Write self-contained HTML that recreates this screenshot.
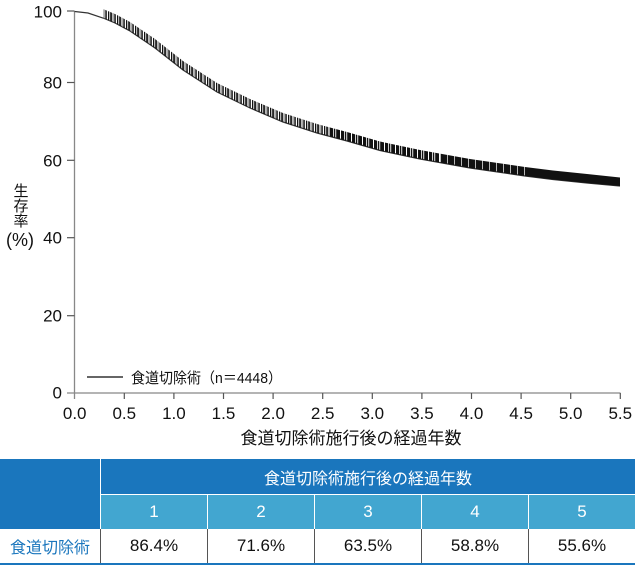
<!DOCTYPE html>
<html><head><meta charset="utf-8">
<style>
html,body{margin:0;padding:0;background:#fff;}
body{width:635px;height:565px;position:relative;overflow:hidden;font-family:"Liberation Sans","Noto Sans CJK JP",sans-serif;}
.c{position:absolute;box-sizing:border-box;display:flex;align-items:center;justify-content:center;}
</style></head><body>
<svg width="635" height="455" style="position:absolute;left:0;top:0" font-family="Liberation Sans, Noto Sans CJK JP, sans-serif">
  <defs>
    <pattern id="pA" patternUnits="userSpaceOnUse" x="0" y="0" width="9" height="40">
      <rect x="0" y="0" width="1.3" height="40" fill="#111"/>
      <rect x="2.2" y="0" width="1.7" height="40" fill="#111"/>
      <rect x="4.6" y="0" width="0.9" height="40" fill="#555"/>
      <rect x="6.3" y="0" width="1.5" height="40" fill="#111"/>
    </pattern>
    <pattern id="pB" patternUnits="userSpaceOnUse" x="0" y="0" width="11" height="40">
      <rect x="0" y="0" width="3" height="40" fill="#111"/>
      <rect x="3.8" y="0" width="1.5" height="40" fill="#111"/>
      <rect x="6.2" y="0" width="3.8" height="40" fill="#111"/>
    </pattern>
    <pattern id="pC" patternUnits="userSpaceOnUse" x="0" y="0" width="14" height="40">
      <rect x="0" y="0" width="6" height="40" fill="#111"/>
      <rect x="6.7" y="0" width="6.6" height="40" fill="#111"/>
    </pattern>
  </defs>
  <!-- axes -->
  <line x1="74.5" y1="11" x2="74.5" y2="399" stroke="#888" stroke-width="1.3"/>
  <line x1="67" y1="393" x2="620.5" y2="393" stroke="#888" stroke-width="1.3"/>
  <g stroke="#555" stroke-width="1.2">
    <line x1="67" y1="11" x2="74.5" y2="11"/>
    <line x1="67" y1="82.5" x2="74.5" y2="82.5"/>
    <line x1="67" y1="160.3" x2="74.5" y2="160.3"/>
    <line x1="67" y1="237.7" x2="74.5" y2="237.7"/>
    <line x1="67" y1="315.7" x2="74.5" y2="315.7"/>
    <line x1="124.3" y1="393" x2="124.3" y2="399"/>
    <line x1="173.9" y1="393" x2="173.9" y2="399"/>
    <line x1="223.5" y1="393" x2="223.5" y2="399"/>
    <line x1="273.1" y1="393" x2="273.1" y2="399"/>
    <line x1="322.7" y1="393" x2="322.7" y2="399"/>
    <line x1="372.3" y1="393" x2="372.3" y2="399"/>
    <line x1="421.9" y1="393" x2="421.9" y2="399"/>
    <line x1="471.5" y1="393" x2="471.5" y2="399"/>
    <line x1="521.1" y1="393" x2="521.1" y2="399"/>
    <line x1="570.7" y1="393" x2="570.7" y2="399"/>
    <line x1="620.3" y1="393" x2="620.3" y2="399"/>
  </g>
  <g font-size="17" fill="#111" text-anchor="end">
    <text x="62" y="17.3">100</text>
    <text x="62" y="88.5">80</text>
    <text x="62" y="166.3">60</text>
    <text x="62" y="243.7">40</text>
    <text x="62" y="321.7">20</text>
    <text x="62" y="398.5">0</text>
  </g>
  <g font-size="17" fill="#111" text-anchor="middle">
    <text x="74.7" y="419">0.0</text>
    <text x="124.3" y="419">0.5</text>
    <text x="173.9" y="419">1.0</text>
    <text x="223.5" y="419">1.5</text>
    <text x="273.1" y="419">2.0</text>
    <text x="322.7" y="419">2.5</text>
    <text x="372.3" y="419">3.0</text>
    <text x="421.9" y="419">3.5</text>
    <text x="471.5" y="419">4.0</text>
    <text x="521.1" y="419">4.5</text>
    <text x="570.7" y="419">5.0</text>
    <text x="620.3" y="419">5.5</text>
  </g>
  <text x="351" y="444" font-size="17" fill="#111" text-anchor="middle">食道切除術施行後の経過年数</text>
  <g font-size="15" fill="#111" text-anchor="middle">
    <text x="21" y="196">生</text>
    <text x="21" y="211">存</text>
    <text x="21" y="226">率</text>
    <text x="20" y="246" font-size="18">(%)</text>
  </g>
  <!-- survival line -->
  <polyline fill="none" stroke="#333" stroke-width="1.2" points="74.7,11.5 88,13 103,18 115,23 130,31 155,48 183,70 217,92 250,108 283,122 317,133 347,141 380,150.5 420,159 470,168 525,176 553,179.5 587,183 620,186"/>
  <!-- censor band (vertical ticks above line) -->
  <polygon fill="url(#pA)" points="103,18 115,23 130,31 155,48 183,70 217,92 250,108 283,122 317,133 330,136.5 330,127.5 317,124 283,113 250,99 217,83 183,61 155,39 130,22 115,14 103,9"/>
  <polygon fill="url(#pB)" points="330,136.5 347,141 380,150.5 420,159 440,162.6 440,153.6 420,150 380,141.5 347,132 330,127.5"/>
  <polygon fill="url(#pC)" points="440,162.6 470,168 525,176 525,167 470,159 440,153.6"/>
  <polygon fill="#111" points="525,176 553,179.5 587,183 620,186 620,177.5 587,174 553,170.5 525,167"/>
  <!-- legend -->
  <line x1="87" y1="377" x2="123" y2="377" stroke="#333" stroke-width="1.5"/>
  <text x="131" y="383" font-size="15" fill="#111" textLength="151" lengthAdjust="spacingAndGlyphs">食道切除術（n＝4448）</text>
</svg>

<!-- table -->
<div class="c" style="left:0;top:459px;width:100px;height:70px;background:#1a76bd;"></div>
<div class="c" style="left:100px;top:459px;width:535px;height:35px;background:#1a76bd;border-left:1px solid #fff;color:#fff;font-size:16px;">食道切除術施行後の経過年数</div>
<div style="position:absolute;left:100px;top:494px;width:535px;height:1px;background:#fff;"></div>
<div class="c" style="left:100px;top:495px;width:107px;height:34px;background:#42a6d0;border-left:1px solid #fff;color:#fff;font-size:17px;">1</div>
<div class="c" style="left:207px;top:495px;width:107px;height:34px;background:#42a6d0;border-left:1px solid #fff;color:#fff;font-size:17px;">2</div>
<div class="c" style="left:314px;top:495px;width:107px;height:34px;background:#42a6d0;border-left:1px solid #fff;color:#fff;font-size:17px;">3</div>
<div class="c" style="left:421px;top:495px;width:107px;height:34px;background:#42a6d0;border-left:1px solid #fff;color:#fff;font-size:17px;">4</div>
<div class="c" style="left:528px;top:495px;width:107px;height:34px;background:#42a6d0;border-left:1px solid #fff;color:#fff;font-size:17px;">5</div>

<div class="c" style="left:0;top:529px;width:100px;height:34px;background:#fff;color:#1a76bd;font-size:16px;">食道切除術</div>
<div class="c" style="left:100px;top:529px;width:107px;height:34px;border-left:1px solid #555;color:#111;font-size:17px;">86.4%</div>
<div class="c" style="left:207px;top:529px;width:107px;height:34px;border-left:1px solid #555;color:#111;font-size:17px;">71.6%</div>
<div class="c" style="left:314px;top:529px;width:107px;height:34px;border-left:1px solid #555;color:#111;font-size:17px;">63.5%</div>
<div class="c" style="left:421px;top:529px;width:107px;height:34px;border-left:1px solid #555;color:#111;font-size:17px;">58.8%</div>
<div class="c" style="left:528px;top:529px;width:107px;height:34px;border-left:1px solid #555;color:#111;font-size:17px;">55.6%</div>
<div style="position:absolute;left:0;top:563px;width:635px;height:2px;background:#1a76bd;"></div>
</body></html>
